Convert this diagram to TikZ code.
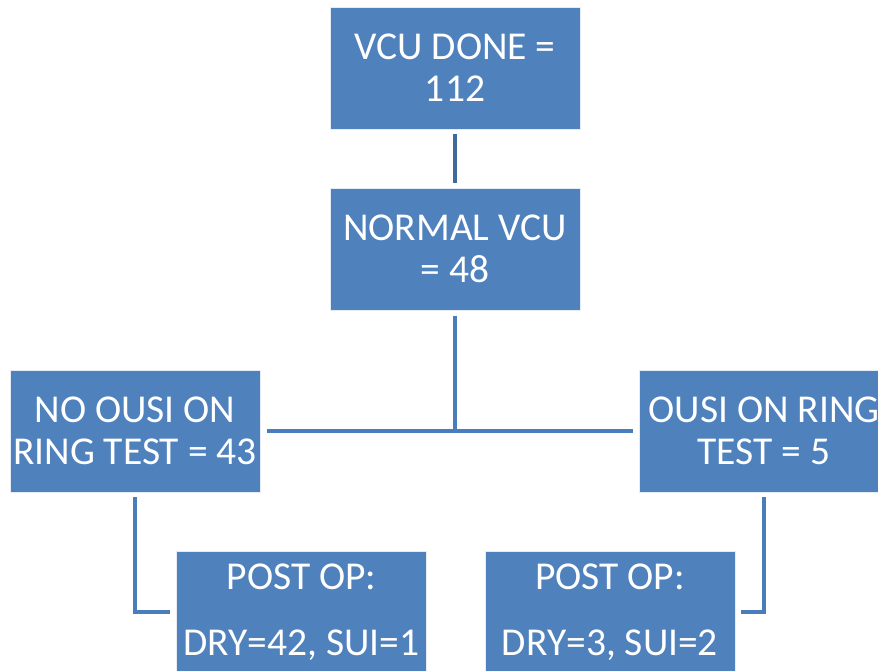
\documentclass[tikz,border=0pt]{standalone}
\usepackage{fontspec}
\setmainfont{Carlito}
\definecolor{boxblue}{HTML}{4F81BD}
\definecolor{linkblue}{HTML}{4A7EBB}
\definecolor{darklink}{HTML}{3F6A99}
\begin{document}
\begin{tikzpicture}[x=1pt,y=-1pt,
  box/.style={fill=boxblue, draw=white!85!boxblue, line width=0.6pt, minimum width=250pt, minimum height=122pt,
    inner sep=0pt, align=center, text=white, font=\fontsize{39.5}{42}\selectfont},
  conn/.style={draw=linkblue, line width=4pt}]
\clip (0,0) rectangle (878,670);
\node[box] (top) at (455,68) {VCU DONE =\\112};
\node[box] (norm) at (455,249) {NORMAL VCU\\= 48};
\node[box] (left) at (135,431) {NO OUSI ON\\RING TEST = 43};
\node[box] (right) at (764,431) {OUSI ON RING\\TEST = 5};
\node[box] (bl) at (301.5,612) {POST OP:\\[24pt]DRY=42, SUI=1};
\node[box] (br) at (610,612) {POST OP:\\[24pt]DRY=3, SUI=2};
\draw[conn, draw=darklink, line width=4.5pt, shorten <=5pt, shorten >=5pt] (top.south) -- (norm.north);
\draw[conn, shorten <=6pt] (norm.south) -- (norm.south |- left.east);
\draw[conn, shorten <=7pt, shorten >=6pt] (left.east) -- (right.west);
\draw[conn, shorten <=5pt, shorten >=6pt] (left.south) |- (bl.west);
\draw[conn, shorten <=5pt, shorten >=6pt] (right.south) |- (br.east);
\end{tikzpicture}
\end{document}
